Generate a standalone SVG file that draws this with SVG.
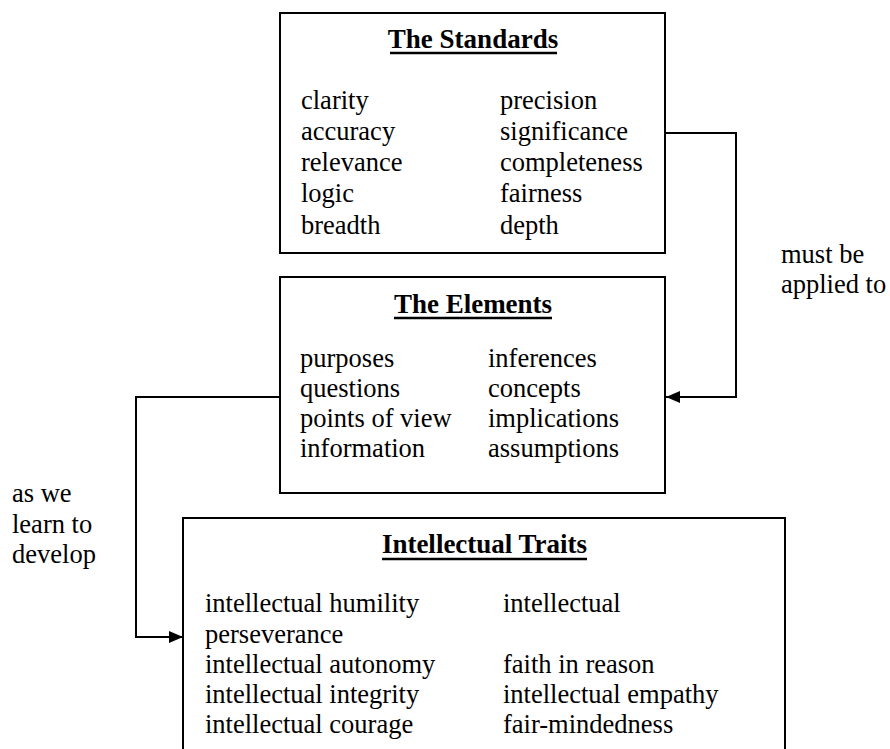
<svg xmlns="http://www.w3.org/2000/svg" width="890" height="749" viewBox="0 0 890 749">
<style>
.box{fill:#fff;stroke:#000;stroke-width:2}
.t{font-family:"Liberation Serif","Times New Roman",serif;font-size:26.5px;fill:#000}
.h{font-family:"Liberation Serif","Times New Roman",serif;font-size:27px;font-weight:bold;fill:#000;text-anchor:middle}
.ul{stroke:#000;stroke-width:2.5}
.conn{fill:none;stroke:#000;stroke-width:2}
</style>
<defs>
<marker id="arr" markerUnits="userSpaceOnUse" markerWidth="16" markerHeight="14" refX="14" refY="7" orient="auto">
<path d="M0,1 L14,7 L0,13 Z" fill="#000"/>
</marker>
</defs>
<rect width="890" height="749" fill="#fff"/>
<g id="standards">
<rect class="box" x="280" y="13" width="385" height="240"/>
<text class="h" x="473" y="48">The Standards</text>
<line class="ul" x1="390" y1="53" x2="557" y2="53"/>
<text class="t" x="301" y="109">clarity</text>
<text class="t" x="301" y="140">accuracy</text>
<text class="t" x="301" y="171">relevance</text>
<text class="t" x="301" y="202">logic</text>
<text class="t" x="301" y="234">breadth</text>
<text class="t" x="500" y="109">precision</text>
<text class="t" x="500" y="140">significance</text>
<text class="t" x="500" y="171">completeness</text>
<text class="t" x="500" y="202">fairness</text>
<text class="t" x="500" y="234">depth</text>
</g>
<g id="elements">
<rect class="box" x="280" y="277" width="385" height="216"/>
<text class="h" x="473" y="313">The Elements</text>
<line class="ul" x1="394" y1="318" x2="552" y2="318"/>
<text class="t" x="300" y="367">purposes</text>
<text class="t" x="300" y="397">questions</text>
<text class="t" x="300" y="427">points of view</text>
<text class="t" x="300" y="457">information</text>
<text class="t" x="488" y="367">inferences</text>
<text class="t" x="488" y="397">concepts</text>
<text class="t" x="488" y="427">implications</text>
<text class="t" x="488" y="457">assumptions</text>
</g>
<g id="traits">
<rect class="box" x="183" y="518" width="602" height="260"/>
<text class="h" x="484.5" y="553">Intellectual Traits</text>
<line class="ul" x1="382" y1="559" x2="587" y2="559"/>
<text class="t" x="205" y="612">intellectual humility</text>
<text class="t" x="205" y="643">perseverance</text>
<text class="t" x="205" y="673">intellectual autonomy</text>
<text class="t" x="205" y="703">intellectual integrity</text>
<text class="t" x="205" y="733">intellectual courage</text>
<text class="t" x="503" y="612">intellectual</text>
<text class="t" x="503" y="673">faith in reason</text>
<text class="t" x="503" y="703">intellectual empathy</text>
<text class="t" x="503" y="733">fair-mindedness</text>
</g>
<g id="connectors">
<path class="conn" d="M665,133 H736 V397 H666" marker-end="url(#arr)"/>
<path class="conn" d="M280,397 H136 V637 H183" marker-end="url(#arr)"/>
<text class="t" x="781" y="263">must be</text>
<text class="t" x="781" y="293">applied to</text>
<text class="t" x="12" y="502">as we</text>
<text class="t" x="12" y="533">learn to</text>
<text class="t" x="12" y="563">develop</text>
</g>
</svg>
